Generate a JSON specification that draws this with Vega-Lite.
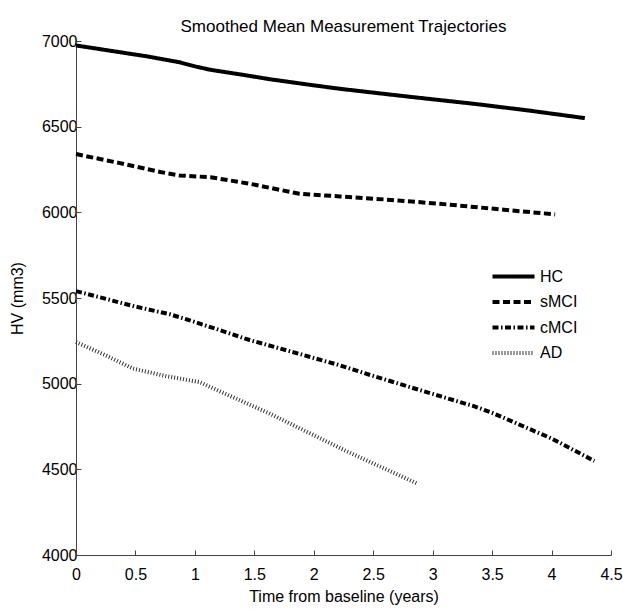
{
  "$schema": "https://vega.github.io/schema/vega-lite/v6.json",
  "autosize": "none",
  "width": 535,
  "height": 514,
  "padding": {"left": 76, "top": 41, "right": 12, "bottom": 54},
  "background": "white",
  "title": {"text": "Smoothed Mean Measurement Trajectories", "fontSize": 17, "fontWeight": "normal", "font": "Liberation Sans", "color": "black", "offset": -3},
  "config": {
    "view": {"stroke": null},
    "font": "Liberation Sans",
    "axis": {"grid": false, "domainColor": "#444", "tickColor": "#444", "labelColor": "black", "titleColor": "black", "labelFontSize": 16, "titleFontSize": 16, "titleFontWeight": "normal", "labelFont": "Liberation Sans", "titleFont": "Liberation Sans"}
  },
  "data": {"values": [
    {"t": 0, "v": 6974, "g": "HC"},
    {"t": 0.3, "v": 6942, "g": "HC"},
    {"t": 0.6, "v": 6910, "g": "HC"},
    {"t": 0.87, "v": 6876, "g": "HC"},
    {"t": 1.0, "v": 6852, "g": "HC"},
    {"t": 1.13, "v": 6832, "g": "HC"},
    {"t": 1.4, "v": 6803, "g": "HC"},
    {"t": 1.63, "v": 6777, "g": "HC"},
    {"t": 1.97, "v": 6744, "g": "HC"},
    {"t": 2.22, "v": 6721, "g": "HC"},
    {"t": 2.8, "v": 6675, "g": "HC"},
    {"t": 3.34, "v": 6634, "g": "HC"},
    {"t": 3.8, "v": 6595, "g": "HC"},
    {"t": 4.28, "v": 6550, "g": "HC"},
    {"t": 0, "v": 6340, "g": "sMCI"},
    {"t": 0.37, "v": 6287, "g": "sMCI"},
    {"t": 0.71, "v": 6235, "g": "sMCI"},
    {"t": 0.87, "v": 6215, "g": "sMCI"},
    {"t": 1.13, "v": 6205, "g": "sMCI"},
    {"t": 1.46, "v": 6167, "g": "sMCI"},
    {"t": 1.88, "v": 6108, "g": "sMCI"},
    {"t": 2.22, "v": 6093, "g": "sMCI"},
    {"t": 2.6, "v": 6075, "g": "sMCI"},
    {"t": 3.06, "v": 6050, "g": "sMCI"},
    {"t": 3.6, "v": 6015, "g": "sMCI"},
    {"t": 4.03, "v": 5988, "g": "sMCI"},
    {"t": 0, "v": 5540, "g": "cMCI"},
    {"t": 0.5, "v": 5450, "g": "cMCI"},
    {"t": 0.79, "v": 5405, "g": "cMCI"},
    {"t": 1.0, "v": 5360, "g": "cMCI"},
    {"t": 1.46, "v": 5255, "g": "cMCI"},
    {"t": 2.0, "v": 5150, "g": "cMCI"},
    {"t": 2.22, "v": 5107, "g": "cMCI"},
    {"t": 2.5, "v": 5045, "g": "cMCI"},
    {"t": 3.0, "v": 4940, "g": "cMCI"},
    {"t": 3.34, "v": 4870, "g": "cMCI"},
    {"t": 3.5, "v": 4830, "g": "cMCI"},
    {"t": 4.0, "v": 4680, "g": "cMCI"},
    {"t": 4.36, "v": 4549, "g": "cMCI"},
    {"t": 0, "v": 5243, "g": "AD"},
    {"t": 0.25, "v": 5165, "g": "AD"},
    {"t": 0.48, "v": 5088, "g": "AD"},
    {"t": 0.75, "v": 5045, "g": "AD"},
    {"t": 1.04, "v": 5009, "g": "AD"},
    {"t": 1.13, "v": 4980, "g": "AD"},
    {"t": 1.63, "v": 4825, "g": "AD"},
    {"t": 2.26, "v": 4611, "g": "AD"},
    {"t": 2.87, "v": 4417, "g": "AD"}
  ]},
  "mark": {"type": "line", "strokeWidth": 4},
  "encoding": {
    "x": {"field": "t", "type": "quantitative", "scale": {"domain": [0, 4.5], "nice": false},
      "axis": {"title": "Time from baseline (years)", "values": [0, 0.5, 1, 1.5, 2, 2.5, 3, 3.5, 4, 4.5], "format": ".1~f", "tickSize": -5, "labelPadding": 16, "titlePadding": 6, "labelFlush": false}},
    "y": {"field": "v", "type": "quantitative", "scale": {"domain": [4000, 7000], "nice": false, "zero": false},
      "axis": {"title": "HV (mm3)", "values": [4000, 4500, 5000, 5500, 6000, 6500, 7000], "format": "d", "tickSize": -5, "labelPadding": 4, "titlePadding": 16, "labelFlush": false}},
    "strokeDash": {"field": "g", "type": "nominal", "scale": {"domain": ["HC", "sMCI", "cMCI", "AD"], "range": [[1, 0], [7, 3.5], [6, 2.5, 1.5, 2.5], [1, 2]]},
      "legend": {"title": null, "orient": "none", "legendX": 425, "legendY": 223, "symbolType": "M-2,0H2", "symbolSize": 441, "symbolStrokeWidth": 4, "labelFontSize": 16, "labelFont": "Liberation Sans", "labelColor": "black", "labelOffset": 14, "rowPadding": 4.5}},
    "color": {"field": "g", "type": "nominal", "scale": {"domain": ["HC", "sMCI", "cMCI", "AD"], "range": ["black", "black", "black", "#333"]}}
  }
}
